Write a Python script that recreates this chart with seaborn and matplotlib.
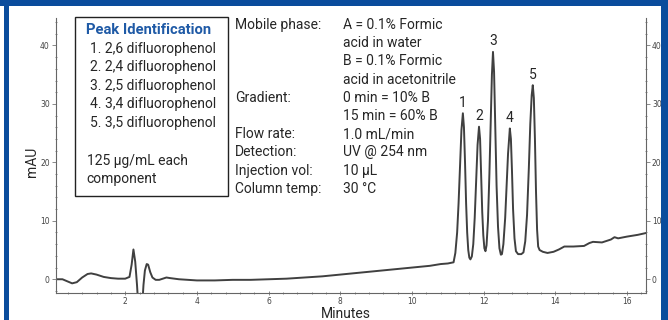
import matplotlib
matplotlib.use("Agg")
import matplotlib.pyplot as plt
import seaborn as sns
import pandas as pd
from matplotlib.patches import Rectangle
from matplotlib.ticker import MultipleLocator

# chromatogram trace (minutes, mAU)
time_min = [0.07, 0.25, 0.40, 0.52, 0.65, 0.80, 0.95, 1.05, 1.20, 1.40, 1.60, 1.80, 2.00, 2.12,
            2.18, 2.23, 2.28, 2.33, 2.37, 2.42, 2.47, 2.51, 2.55, 2.60, 2.64, 2.70, 2.76, 2.85,
            2.95, 3.05, 3.15, 3.25, 3.50, 4.00, 4.50, 5.00, 5.50, 6.00, 6.50, 7.00, 7.50, 8.00,
            8.50, 9.00, 9.50, 10.00, 10.50, 10.80, 11.00, 11.16,
            11.21, 11.26, 11.30, 11.34, 11.38, 11.42, 11.45, 11.48, 11.51, 11.54, 11.57, 11.60, 11.63,
            11.67, 11.71, 11.75, 11.79, 11.83, 11.87, 11.90, 11.93, 11.96, 11.99, 12.02, 12.05,
            12.08, 12.12, 12.16, 12.20, 12.23, 12.26, 12.29, 12.32, 12.36, 12.40, 12.44, 12.48, 12.51,
            12.55, 12.60, 12.64, 12.68, 12.73, 12.76, 12.79, 12.82, 12.86, 12.90, 12.96, 13.05,
            13.11, 13.16, 13.21, 13.26, 13.30, 13.34, 13.37, 13.40, 13.43, 13.46, 13.49, 13.52,
            13.56, 13.65, 13.78, 13.95, 14.10, 14.25, 14.50, 14.80, 14.95, 15.05, 15.30, 15.55,
            15.65, 15.75, 16.00, 16.30, 16.52]
mau = [0.0, 0.0, -0.4, -0.7, -0.5, 0.3, 0.9, 1.0, 0.8, 0.4, 0.2, 0.1, 0.1, 0.4,
       2.5, 5.1, 3.0, -1.0, -5.0, -7.0, -5.0, -1.0, 1.5, 2.6, 2.5, 1.2, 0.3, -0.1,
       -0.1, 0.1, 0.3, 0.2, 0.0, -0.2, -0.2, -0.1, -0.1, 0.0, 0.1, 0.3, 0.5, 0.8,
       1.1, 1.4, 1.7, 2.0, 2.3, 2.6, 2.7, 2.9,
       4.5, 8.0, 13.0, 19.5, 25.5, 28.4, 26.0, 20.0, 13.0, 8.0, 5.0, 3.7, 3.4,
       3.9, 6.0, 10.5, 17.0, 23.0, 26.1, 24.0, 18.0, 11.5, 7.5, 5.3, 4.8,
       5.8, 10.0, 18.0, 28.0, 35.0, 38.9, 35.5, 27.0, 16.0, 9.0, 5.3, 4.2, 4.3,
       6.0, 10.5, 16.0, 21.5, 25.8, 24.0, 18.5, 12.0, 7.0, 4.8, 4.3, 4.3,
       4.6, 6.5, 11.0, 19.0, 26.5, 31.5, 33.2, 31.0, 24.0, 15.0, 8.5, 5.6,
       5.0, 4.7, 4.5, 4.7, 5.1, 5.6, 5.6, 5.7, 6.2, 6.4, 6.3, 6.8,
       7.2, 7.0, 7.3, 7.6, 7.9]

peak_labels = ["1", "2", "3", "4", "5"]
peak_rt = [11.42, 11.87, 12.26, 12.73, 13.37]
peak_height = [28.4, 26.1, 38.9, 25.8, 33.2]

compounds = ["1. 2,6 difluorophenol", "2. 2,4 difluorophenol", "3. 2,5 difluorophenol",
             "4. 3,4 difluorophenol", "5. 3,5 difluorophenol"]
cond_names = ["Mobile phase:", "", "", "", "Gradient:", "", "Flow rate:", "Detection:",
              "Injection vol:", "Column temp:"]
cond_values = ["A = 0.1% Formic", "acid in water", "B = 0.1% Formic", "acid in acetonitrile",
               "0 min = 10% B", "15 min = 60% B", "1.0 mL/min", "UV @ 254 nm", "10 µL", "30 °C"]

sns.set_style("white")
plt.rcParams['font.family'] = ['Roboto', 'DejaVu Sans']

W, H = 668, 320
BLUE = "#0a4c9c"
FS = 10
fig = plt.figure(figsize=(W / 100, H / 100), dpi=100)


def fx(px):
    return px / W


def fy(py):
    return 1 - py / H


ax = fig.add_axes([fx(56), fy(292.7), (645.7 - 56) / W, (292.7 - 18) / H])
df = pd.DataFrame({"Minutes": time_min, "mAU": mau})
sns.lineplot(data=df, x="Minutes", y="mAU", ax=ax, color="#404040", lw=1.4, sort=False)

ax.set_xlim(0.07, 16.52)
ax.set_ylim(-2.3, 44.7)
ax.xaxis.set_minor_locator(MultipleLocator(0.4))
ax.yaxis.set_minor_locator(MultipleLocator(2))
ax.set_xticks([2, 4, 6, 8, 10, 12, 14, 16])
ax.set_yticks([0, 10, 20, 30, 40])
ax.tick_params(which="both", left=True, right=True, bottom=True, labelright=True,
               labelsize=5.5, labelcolor="#444444", color="#777777", width=0.6,
               labelfontfamily="DejaVu Sans")
ax.tick_params(which="major", length=3, direction="out", pad=1.5)
ax.tick_params(which="minor", length=2, direction="inout")
ax.tick_params(axis="x", which="both", direction="inout")
for side in ["left", "right", "bottom"]:
    ax.spines[side].set_color("#666666")
    ax.spines[side].set_linewidth(0.8)
ax.spines["top"].set_visible(False)
ax.set_xlabel("")
ax.set_ylabel("")

fig.text(fx(32), fy(162), "mAU", rotation=90, fontsize=FS, ha="center", va="center")
fig.text(fx(346), fy(318), "Minutes", fontsize=FS, ha="center", va="baseline")

for lab, rt, h in zip(peak_labels, peak_rt, peak_height):
    ax.annotate(lab, xy=(rt, h), xytext=(0, 4.8), textcoords="offset points",
                ha="center", va="baseline", fontsize=FS)

# peak identification box
fig.patches.append(Rectangle((fx(75), fy(196)), (228 - 75) / W, (196 - 17) / H,
                             transform=fig.transFigure, fill=True, facecolor="white",
                             edgecolor="#222222", lw=1.0))
fig.text(fx(86), fy(34), "Peak Identification", fontsize=10.6, fontweight="bold",
         color="#1f5aa6", va="baseline")
for i, c in enumerate(compounds):
    fig.text(fx(90), fy(53 + i * 18.4), c, fontsize=FS, va="baseline")
fig.text(fx(87), fy(165), "125 µg/mL each", fontsize=FS, va="baseline")
fig.text(fx(86), fy(183), "component", fontsize=FS, va="baseline")

# method conditions
for i, (n, v) in enumerate(zip(cond_names, cond_values)):
    yy = 29 + i * 18.2
    fig.text(fx(235), fy(yy), n, fontsize=FS, va="baseline")
    fig.text(fx(343), fy(yy), v, fontsize=FS, va="baseline")

# blue frame
fig.patches.append(Rectangle((0, fy(6)), 1, 6 / H, transform=fig.transFigure,
                             color=BLUE, lw=0))
fig.patches.append(Rectangle((fx(4), 0), 5 / W, 1, transform=fig.transFigure,
                             color=BLUE, lw=0))
fig.patches.append(Rectangle((fx(661), 0), 7 / W, 1, transform=fig.transFigure,
                             color=BLUE, lw=0))

fig.savefig("out.png", dpi=100)
